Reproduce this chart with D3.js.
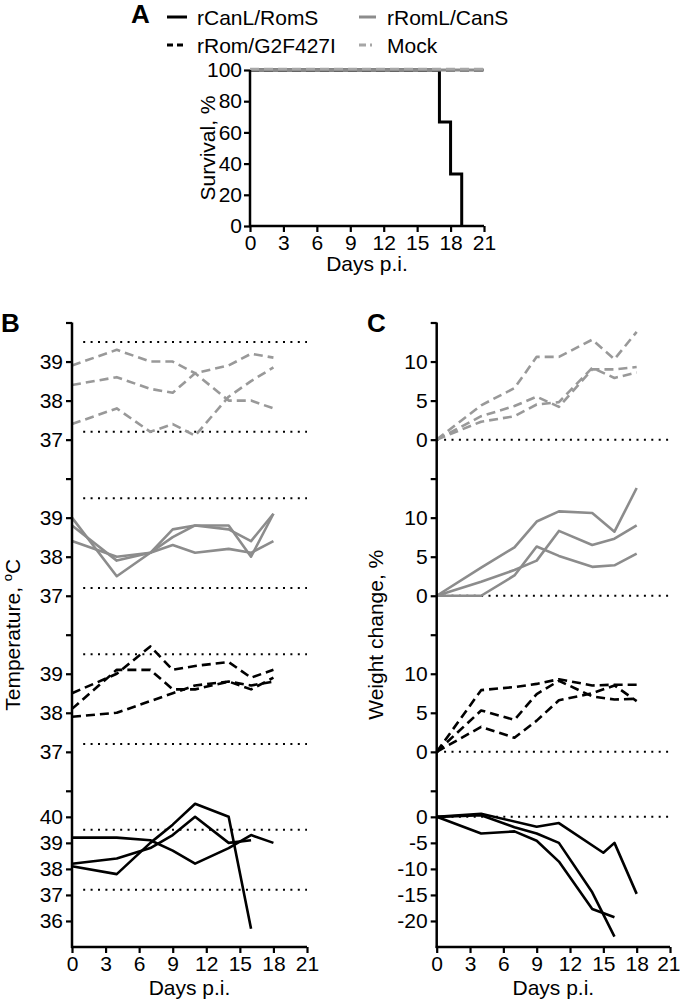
<!DOCTYPE html>
<html><head><meta charset="utf-8">
<script src="https://cdn.jsdelivr.net/npm/d3@7"></script>
<style>
body{margin:0;background:#fff}
svg{display:block}
text{font-family:"Liberation Sans",Arial,Helvetica,sans-serif;fill:#000}
</style></head>
<body><svg id="c" width="680" height="1003"></svg>
<script>
// ---------- DATA ----------
const groups = ["rCanL/RomS", "rRomL/CanS", "rRom/G2F427I", "Mock"];
const xTicks = [0, 3, 6, 9, 12, 15, 18, 21];
const survTicks = [0, 20, 40, 60, 80, 100];
// survival (%) step data
const survCanL = [[0, 100], [17, 66.7], [18, 33.3], [19, 0]];
const survRomL = [[0, 100], [21, 100]];
const survG2F = [[0, 100], [21, 100]];
const survMock = [[0, 100], [21, 100]];

const days = [0, 4, 7, 9, 11, 14, 16, 18];
// temperature (°C)
const tempMock = [
  [38.9, 39.3, 39.0, 39.0, 38.7, 38.0, 38.0, 37.8],
  [38.4, 38.6, 38.3, 38.2, 38.7, 38.9, 39.2, 39.1],
  [37.4, 37.8, 37.2, 37.4, 37.1, 38.1, 38.5, 38.85]
];
const tempRomL = [
  [39.0, 37.5, 38.1, 38.7, 38.8, 38.8, 38.0, 39.1],
  [38.8, 37.9, 38.1, 38.5, 38.8, 38.7, 38.4, 39.1],
  [38.4, 38.0, 38.1, 38.3, 38.1, 38.2, 38.1, 38.4]
];
const tempG2F = [
  [38.5, 39.0, 39.7, 39.1, 39.2, 39.3, 38.9, 39.1],
  [38.1, 39.1, 39.1, 38.6, 38.6, 38.8, 38.6, 38.9],
  [37.9, 38.0, 38.3, 38.5, 38.7, 38.8, 38.7, 38.8]
];
const tempCanLDays = [0, 4, 7, 9, 11, 14, 16, 18];
const tempCanL = [
  [39.2, 39.2, 39.1, 38.7, 38.2, 38.8, 39.3, 39.0],
  [38.2, 38.4, 38.8, 39.3, 40.0, 39.0, 39.1, null],
  [38.1, 37.8, 39.0, 39.7, 40.5, 40.0, 35.7, null]
];
// weight change (%)
const weightMock = [
  [0, 4.4, 6.6, 10.6, 10.6, 12.8, 10.3, 13.8],
  [0, 3.0, 4.3, 5.5, 4.2, 9.0, 9.0, 9.3],
  [0, 2.3, 3.0, 4.5, 4.8, 9.2, 7.9, 8.6]
];
const weightRomL = [
  [0, 3.6, 6.2, 9.5, 10.8, 10.6, 8.2, 13.8],
  [0, 1.8, 3.3, 4.5, 8.3, 6.5, 7.3, 9.0],
  [0, 0, 2.6, 6.3, 5.1, 3.7, 3.9, 5.4]
];
const weightG2F = [
  [0, 7.9, 8.3, 8.7, 9.3, 8.5, 8.6, 8.6],
  [0, 5.3, 4.1, 7.4, 9.1, 7.1, 6.7, 6.8],
  [0, 3.2, 1.8, 4.0, 6.6, 7.5, 8.5, 6.5]
];
const weightCanLDays1 = [0, 4, 9, 11, 15, 16, 18];
const weightCanL1 = [0, 0.6, -1.9, -1.2, -6.9, -5.0, -14.8];
const weightCanLDays2 = [0, 4, 7, 9, 11, 14, 16];
const weightCanL2 = [0, 0.3, -2.0, -3.2, -5.0, -14.5, -23.0];
const weightCanL3 = [0, -3.2, -2.8, -4.6, -8.6, -17.7, -19.3];

// ---------- DRAW ----------
const svg = d3.select("#c");
const BLACK = "#000", GREY = "#8c8c8c";
const FS = 21;
const DASH = "9,5";

function styleAxis(g) {
  g.selectAll(".domain").remove();
  g.selectAll(".tick line").attr("stroke", "#000").attr("stroke-width", 2.2);
  g.selectAll(".tick text").attr("font-size", FS).attr("font-family", '"Liberation Sans",Arial,sans-serif').attr("fill", "#000");
}

// ===== Panel A =====
const xA = d3.scaleLinear().domain([0, 21]).range([250, 484]);
const yA = d3.scaleLinear().domain([0, 100]).range([226, 70]);
const stepLine = d3.line().x(d => xA(d[0])).y(d => yA(d[1])).curve(d3.curveStepAfter);
const gA = svg.append("g");
gA.append("path").attr("d", stepLine(survCanL)).attr("fill", "none").attr("stroke", BLACK).attr("stroke-width", 3);
gA.append("path").attr("d", stepLine(survG2F)).attr("fill", "none").attr("stroke", BLACK).attr("stroke-width", 3).attr("stroke-dasharray", DASH);
gA.append("path").attr("d", stepLine(survRomL)).attr("fill", "none").attr("stroke", GREY).attr("stroke-width", 3);
gA.append("path").attr("d", stepLine(survMock)).attr("fill", "none").attr("stroke", "#a6a6a6").attr("stroke-width", 2.5).attr("stroke-dasharray", DASH).attr("transform", "translate(0,-1)");

gA.append("g").attr("transform", `translate(${xA(0)},0)`)
  .call(d3.axisLeft(yA).tickValues(survTicks).tickSize(6).tickPadding(2).tickFormat(d => String(d)))
  .call(styleAxis);
gA.append("g").attr("transform", `translate(0,${yA(0)})`)
  .call(d3.axisBottom(xA).tickValues(xTicks).tickSize(6).tickPadding(3).tickFormat(d => String(d)))
  .call(styleAxis);
gA.append("line").attr("x1", xA(0)).attr("x2", xA(0)).attr("y1", yA(100)).attr("y2", yA(0) + 1).attr("stroke", "#000").attr("stroke-width", 2.5);
gA.append("line").attr("x1", xA(0) - 1).attr("x2", xA(21)).attr("y1", yA(0)).attr("y2", yA(0)).attr("stroke", "#000").attr("stroke-width", 2.5);
gA.append("text").attr("transform", `translate(215,${(yA(0) + yA(100)) / 2}) rotate(-90)`).attr("text-anchor", "middle").attr("font-size", FS).text("Survival, %");
gA.append("text").attr("x", (xA(0) + xA(21)) / 2).attr("y", 271).attr("text-anchor", "middle").attr("font-size", FS).text("Days p.i.");
svg.append("text").attr("x", 131).attr("y", 23).attr("font-size", 26).attr("font-weight", "bold").text("A");

// legend
const legendItems = [
  {name: groups[0], color: BLACK, dash: null, x: 167, y: 17},
  {name: groups[1], color: GREY, dash: null, x: 359, y: 17},
  {name: groups[2], color: BLACK, dash: "6,4", x: 167, y: 45},
  {name: groups[3], color: "#a6a6a6", dash: "7,4,2,4", x: 359, y: 45}
];
legendItems.forEach(it => {
  const w = it.x < 300 ? 20 : 17;
  svg.append("line").attr("x1", it.x).attr("x2", it.x + w).attr("y1", it.y).attr("y2", it.y)
    .attr("stroke", it.color).attr("stroke-width", 3).attr("stroke-dasharray", it.dash);
  svg.append("text").attr("x", it.x < 300 ? 197 : 387).attr("y", it.y + 8).attr("font-size", FS).text(it.name);
});

// ===== Panels B and C =====
const bandTops = [322.5, 478.6, 634.7, 790.8];
const bandH = 156.2;
const bottomY = bandTops[3] + bandH;

const xB = d3.scaleLinear().domain([0, 21]).range([72, 307]);
const xC = d3.scaleLinear().domain([0, 21]).range([436.7, 670]);

const tempDomains = [[36, 40], [36, 40], [36, 40], [35, 41]];
const tempTickVals = [[37, 38, 39, 40], [37, 38, 39, 40], [37, 38, 39, 40], [36, 37, 38, 39, 40, 41]];
const tempLabelTop = [39, 39, 39, 40];
const tempRefs = [39.5, 37.2];
const tempRefStart = 1;

const wDomains = [[-5, 15], [-5, 15], [-5, 15], [-25, 5]];
const wTickVals = [[0, 5, 10, 15], [0, 5, 10, 15], [0, 5, 10, 15], [-20, -15, -10, -5, 0, 5]];
const wLabelTop = [10, 10, 10, 0];
const wRefs = [0];
const wRefStart = 0;

const bandStyle = [
  {color: "#999", dash: DASH},   // Mock
  {color: GREY, dash: null},     // rRomL/CanS
  {color: BLACK, dash: DASH},    // rRom/G2F427I
  {color: BLACK, dash: null}     // rCanL/RomS
];

const tempSeries = [
  tempMock.map(s => s.map((v, i) => [days[i], v])),
  tempRomL.map(s => s.map((v, i) => [days[i], v])),
  tempG2F.map(s => s.map((v, i) => [days[i], v])),
  tempCanL.map(s => s.map((v, i) => [tempCanLDays[i], v]).filter(p => p[1] !== null))
];
const weightSeries = [
  weightMock.map(s => s.map((v, i) => [days[i], v])),
  weightRomL.map(s => s.map((v, i) => [days[i], v])),
  weightG2F.map(s => s.map((v, i) => [days[i], v])),
  [
    weightCanL1.map((v, i) => [weightCanLDays1[i], v]),
    weightCanL2.map((v, i) => [weightCanLDays2[i], v]),
    weightCanL3.map((v, i) => [weightCanLDays2[i], v])
  ]
];

function drawColumn(x, domains, tickVals, labelTop, refs, refStart, series, letter, letterX, ylabel, ylabelX, fitRight) {
  const g = svg.append("g");
  domains.forEach((dom, k) => {
    const y = d3.scaleLinear().domain(dom).range([bandTops[k] + bandH, bandTops[k]]);
    refs.forEach(r => {
      g.append("line").attr("x1", x(refStart)).attr("x2", x(21)).attr("y1", y(r)).attr("y2", y(r))
        .attr("stroke", "#000").attr("stroke-width", 2).attr("stroke-dasharray", "2,5.4");
    });
    const line = d3.line().x(d => x(d[0])).y(d => y(d[1]));
    series[k].forEach(s => {
      g.append("path").attr("d", line(s)).attr("fill", "none")
        .attr("stroke", bandStyle[k].color).attr("stroke-width", 2.6)
        .attr("stroke-dasharray", bandStyle[k].dash).attr("stroke-linejoin", "round");
    });
    g.append("g").attr("transform", `translate(${x(0)},0)`)
      .call(d3.axisLeft(y).tickValues(tickVals[k]).tickSize(6).tickPadding(3)
        .tickFormat(d => d <= labelTop[k] ? String(d) : ""))
      .call(styleAxis);
  });
  g.append("line").attr("x1", x(0)).attr("x2", x(0)).attr("y1", bandTops[0]).attr("y2", bottomY + 1)
    .attr("stroke", "#000").attr("stroke-width", 2.5);
  const xa = g.append("g").attr("transform", `translate(0,${bottomY})`)
    .call(d3.axisBottom(x).tickValues(xTicks).tickSize(6).tickPadding(3).tickFormat(d => String(d)))
    .call(styleAxis);
  if (fitRight) {
    xa.selectAll(".tick text").filter(d => d === 21).attr("text-anchor", "end").attr("dx", 10);
  }
  g.append("line").attr("x1", x(0) - 1).attr("x2", x(21)).attr("y1", bottomY).attr("y2", bottomY)
    .attr("stroke", "#000").attr("stroke-width", 2.5);
  g.append("text").attr("x", (x(0) + x(21)) / 2).attr("y", 995).attr("text-anchor", "middle").attr("font-size", FS).text("Days p.i.");
  g.append("text").attr("x", letterX).attr("y", 332).attr("font-size", 26).attr("font-weight", "bold").text(letter);
  const yl = g.append("text").attr("transform", `translate(${ylabelX},${(bandTops[0] + bottomY) / 2}) rotate(-90)`)
    .attr("text-anchor", "middle").attr("font-size", FS);
  ylabel(yl);
}

drawColumn(xB, tempDomains, tempTickVals, tempLabelTop, tempRefs, tempRefStart, tempSeries, "B", 1, t => {
  t.append("tspan").text("Temperature, ");
  t.append("tspan").attr("font-size", 13).attr("dy", -8).text("o");
  t.append("tspan").attr("dy", 8).text("C");
}, 20, false);

drawColumn(xC, wDomains, wTickVals, wLabelTop, wRefs, wRefStart, weightSeries, "C", 367, t => {
  t.text("Weight change, %");
}, 383, true);
</script></body></html>
